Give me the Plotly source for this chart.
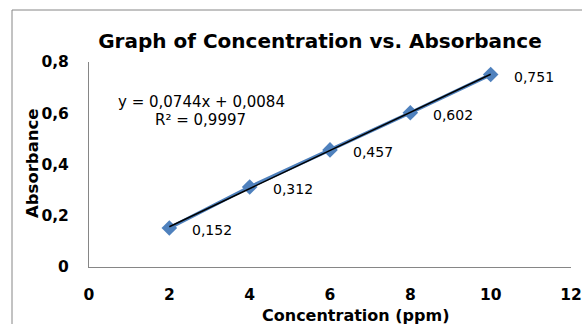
import plotly.graph_objects as go

conc = [2, 4, 6, 8, 10]
absorb = [0.152, 0.312, 0.457, 0.602, 0.751]
labels = ["0,152", "0,312", "0,457", "0,602", "0,751"]
slope, intercept = 0.0744, 0.0084
trend_x = [2, 10]
trend_y = [slope * x + intercept for x in trend_x]

FONT = "DejaVu Sans"
L, R, T, B = 89, 16, 62, 57
W, H = 587, 324
PW, PH = W - L - R, H - T - B


def px(x):
    return (x - L) / PW


def py(y):
    return (H - B - y) / PH


fig = go.Figure()
fig.add_trace(go.Scatter(
    x=conc, y=absorb, mode="lines+markers",
    line=dict(color="#4F81BD", width=3.5),
    marker=dict(symbol="diamond", size=12, color="#4F81BD"),
    showlegend=False, cliponaxis=False))
fig.add_trace(go.Scatter(
    x=trend_x, y=trend_y, mode="lines",
    line=dict(color="black", width=1.5), showlegend=False))

for x, y, t in zip(conc, absorb, labels):
    fig.add_annotation(x=x, y=y, text=t, showarrow=False, xanchor="left",
                       xshift=21, yshift=-2, font=dict(family=FONT, size=14, color="black"))

fig.add_annotation(xref="paper", yref="paper", x=px(201.5), y=py(102),
                   xanchor="center", yanchor="middle",
                   text="y = 0,0744x + 0,0084", showarrow=False,
                   font=dict(family=FONT, size=15, color="black"))
fig.add_annotation(xref="paper", yref="paper", x=px(200), y=py(120),
                   xanchor="center", yanchor="middle",
                   text="R² = 0,9997", showarrow=False,
                   font=dict(family=FONT, size=15, color="black"))

# axis titles
fig.add_annotation(xref="paper", yref="paper", x=px(355), y=py(315),
                   xanchor="center", yanchor="middle",
                   text="<b>Concentration (ppm)</b>", showarrow=False,
                   font=dict(family=FONT, size=16, color="black"))
fig.add_annotation(xref="paper", yref="paper", x=px(32), y=py(163),
                   xanchor="center", yanchor="middle", textangle=-90,
                   text="<b>Absorbance</b>", showarrow=False,
                   font=dict(family=FONT, size=16.5, color="black"))

# chart area border (left and top edges visible)
fig.add_shape(type="line", xref="paper", yref="paper",
              x0=px(12), x1=px(12), y0=py(10), y1=py(330),
              line=dict(color="#868686", width=1))
fig.add_shape(type="line", xref="paper", yref="paper",
              x0=px(12), x1=px(582), y0=py(10), y1=py(10),
              line=dict(color="#868686", width=1))

fig.update_layout(
    width=W, height=H,
    margin=dict(l=L, r=R, t=T, b=B, autoexpand=False),
    paper_bgcolor="white", plot_bgcolor="white",
    separators=",.",
    title=dict(text="<b>Graph of Concentration vs. Absorbance</b>", x=320 / W, xanchor="center",
               y=1 - 41 / H, yanchor="middle", font=dict(family=FONT, size=20, color="black")),
    xaxis=dict(range=[0, 12], dtick=2, showgrid=False, zeroline=False, showline=True,
               linecolor="#868686", linewidth=1, ticks="", ticklabelstandoff=13,
               automargin=False,
               tickfont=dict(family=FONT, size=15.5, color="black", weight="bold")),
    yaxis=dict(range=[0, 0.8], dtick=0.2, showgrid=False, zeroline=False, showline=True,
               linecolor="#868686", linewidth=1, ticks="", ticklabelstandoff=16,
               automargin=False,
               tickfont=dict(family=FONT, size=15.5, color="black", weight="bold")),
)
fig.write_html("out.html")
